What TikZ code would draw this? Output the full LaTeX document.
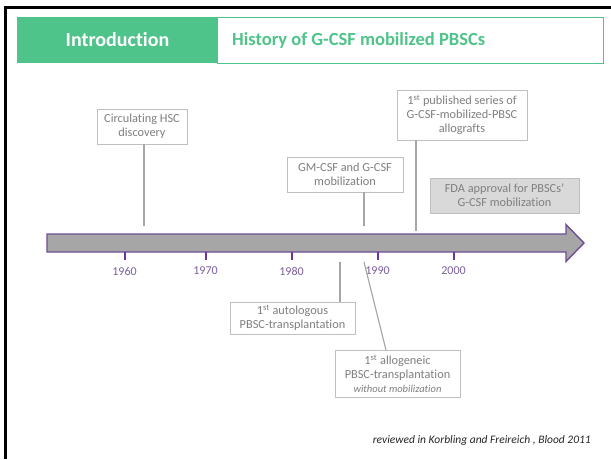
\documentclass[tikz,border=0pt]{standalone}
\usepackage{fontspec}
\setmainfont{Carlito}[Ligatures=NoCommon]
\definecolor{hdrgreen}{HTML}{4FC48A}
\definecolor{boxgray}{HTML}{BFBFBF}
\definecolor{txtgray}{HTML}{7F7F7F}
\definecolor{linegray}{HTML}{A6A6A6}
\definecolor{arrowpurple}{HTML}{6E4F96}
\definecolor{tickpurple}{HTML}{7030A0}
\definecolor{yearpurple}{HTML}{7B5F9E}
\definecolor{fdafill}{HTML}{D9D9D9}
\begin{document}
\begin{tikzpicture}[x=1pt,y=-1pt,
  evbox/.style={draw=boxgray,line width=0.8pt,fill=white,text=txtgray,align=center,
    inner sep=0pt,font=\fontsize{12.3}{14}\selectfont},
  conn/.style={draw=linegray,line width=1.5pt},
  tickmk/.style={draw=tickpurple,line width=2pt},
  yearlbl/.style={text=yearpurple,font=\fontsize{12}{14}\selectfont,inner sep=0pt}]
\useasboundingbox (0,0) rectangle (611,459);
\fill[white] (0,0) rectangle (611,459);
% slide frame (left and top edges)
\draw[black,line width=2.2pt] (5.5,459) -- (5.5,7.5) -- (611,7.5);
% header
\node[draw=hdrgreen,line width=1.2pt,fill=white,minimum width=386pt,minimum height=46pt,inner sep=0pt,anchor=north west] (hdrR) at (217,17) {};
\node[fill=hdrgreen,minimum width=200pt,minimum height=46pt,inner sep=0pt,anchor=north west] (hdrL) at (17,17) {};
\node[text=white,font=\fontsize{20}{24}\selectfont\bfseries,inner sep=0pt] (intro) at (117.5,40) {Introduction};
\node[text=hdrgreen,font=\fontsize{18.5}{22}\selectfont\bfseries,inner sep=0pt,anchor=west] (title) at (232,40) {History of G-CSF mobilized PBSCs};
% timeline arrow
\draw[arrowpurple,line width=1.4pt,fill=linegray,line join=miter]
  (47,234) -- (566,234) -- (566,224.5) -- (584,243) -- (566,261.5) -- (566,252) -- (47,252) -- cycle;
% ticks and years
\foreach \x/\yr in {124.5/1960,205.5/1970,291.5/1980,377.5/1990,453.5/2000}{
  \coordinate (tk\yr) at (\x,252);
  \draw[tickmk] (tk\yr) -- ++(0,8);
  \node[yearlbl] (yl\yr) at (\x,271) {\yr};
}
% event boxes
\node[evbox,minimum width=90pt,minimum height=35pt] (hsc) at (142,126.5) {Circulating HSC\\discovery};
\node[evbox,minimum width=116pt,minimum height=35pt] (gm) at (345,174.5) {GM-CSF and G-CSF\\mobilization};
\node[evbox,minimum width=130pt,minimum height=50pt] (pub) at (462,115) {1\textsuperscript{st} published series of\\G-CSF-mobilized-PBSC\\allografts};
\node[evbox,fill=fdafill,minimum width=149pt,minimum height=35pt] (fda) at (504.5,195.5) {FDA approval for PBSCs'\\G-CSF mobilization};
\node[evbox,minimum width=125pt,minimum height=32pt] (auto) at (292.5,318) {1\textsuperscript{st} autologous\\PBSC-transplantation};
\node[evbox,minimum width=125pt,minimum height=47pt] (allo) at (397.5,373.5) {1\textsuperscript{st} allogeneic\\PBSC-transplantation\\{\fontsize{10.5}{12}\selectfont\itshape without mobilization}};
% connector end points on the timeline
\coordinate (eHSC) at (144,225.5);
\coordinate (eGM) at (364,225.5);
\coordinate (ePUB) at (416,231);
\coordinate (eAUTO) at (340,262);
\coordinate (eALLO) at (364,262);
\coordinate (aALLO) at (386,350);
% connectors
\draw[conn] (hsc.south -| eHSC) -- (eHSC);
\draw[conn] (gm.south -| eGM) -- (eGM);
\draw[conn,line width=1.2pt] (pub.south -| ePUB) -- (ePUB);
\draw[conn] (auto.north -| eAUTO) -- (eAUTO);
\draw[conn,line width=1.2pt] (eALLO) -- (aALLO);
% citation
\node[anchor=east,text=black!85,font=\fontsize{11.5}{13}\selectfont\itshape,inner sep=0pt] (cite) at (591,440) {reviewed in Korbling and Freireich , Blood 2011};
\end{tikzpicture}
\end{document}
